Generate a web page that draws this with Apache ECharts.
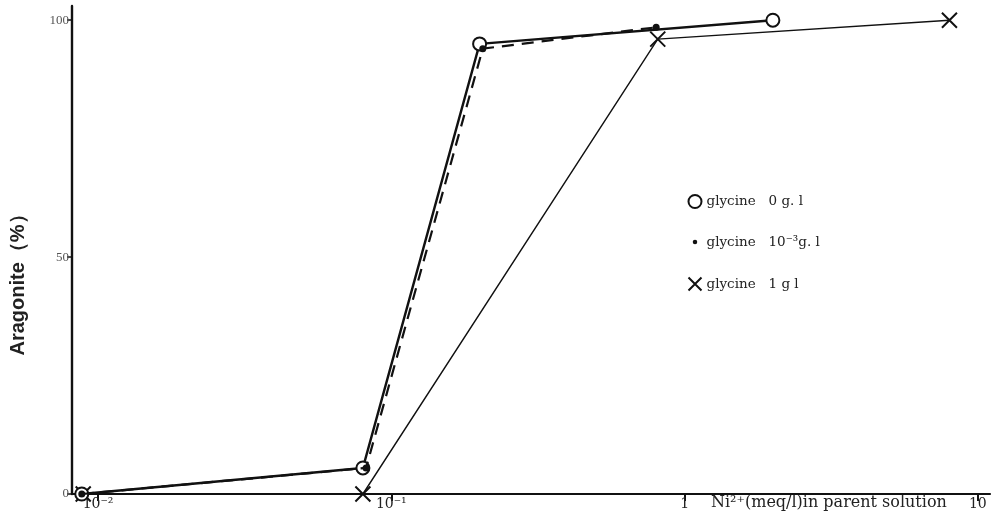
<!DOCTYPE html>
<html>
<head>
<meta charset="utf-8">
<script src="https://cdn.jsdelivr.net/npm/echarts@6/dist/echarts.min.js"></script>
<style>
  html, body { margin: 0; padding: 0; background: #fff; }
  #chart { width: 994px; height: 521px; }
</style>
</head>
<body>
<div id="chart"></div>
<script>
// Ni2+ concentration (meq/l) and aragonite fraction (%) for three glycine levels
const glycine0X = [0.0088, 0.08, 0.2, 2.0];
const glycine0Y = [0, 5.5, 95, 100];

const glycineMilliX = [0.0088, 0.082, 0.205, 0.8];
const glycineMilliY = [0, 5.5, 94, 98.5];

const glycine1X = [0.0089, 0.08, 0.81, 8.0];
const glycine1Y = [0, 0, 96, 100];

const xTickValues = [0.01, 0.1, 1, 10];
const xTickLabels = ['10\u207B\u00B2', '10\u207B\u00B9', '1', '10'];
const yTickValues = [0, 50, 100];

const seriesNames = ['glycine   0 g. l', 'glycine   10\u207B\u00B3g. l', 'glycine   1 g l'];

const pairs = (xs, ys) => xs.map((x, i) => [x, ys[i]]);

const crossPath = 'path://M0,0 L10,10 M10,0 L0,10';
// small dot centred in a larger invisible box, so the legend icon stays small
const smallDotPath = 'path://M0,0 M20,20 M10,6.5 A3.5,3.5 0 1 1 10,13.5 A3.5,3.5 0 1 1 10,6.5 Z';

const chart = echarts.init(document.getElementById('chart'));
chart.setOption({
  backgroundColor: '#ffffff',
  animation: false,
  grid: { left: 72, right: 4, top: 6, bottom: 27, containLabel: false },
  xAxis: {
    type: 'log',
    logBase: 10,
    min: 0.00815,
    max: 11,
    axisLine: { show: true, onZero: false, lineStyle: { color: '#111', width: 2.2 } },
    axisTick: { show: true, inside: false, length: 7, customValues: xTickValues,
      lineStyle: { color: '#111', width: 2 } },
    axisLabel: {
      customValues: xTickValues,
      formatter: v => {
        const i = xTickValues.findIndex(t => Math.abs(Math.log10(t) - Math.log10(v)) < 1e-6);
        return i >= 0 ? xTickLabels[i] : '';
      },
      color: '#222', fontFamily: 'DejaVu Serif', fontSize: 14, margin: 3
    },
    splitLine: { show: false },
    minorTick: { show: false }
  },
  yAxis: {
    type: 'value',
    min: 0,
    max: 103,
    axisLine: { show: true, lineStyle: { color: '#111', width: 2.4 } },
    axisTick: { show: true, length: 5, customValues: yTickValues,
      lineStyle: { color: '#111', width: 1.5 } },
    axisLabel: { customValues: yTickValues, color: '#555', fontFamily: 'Liberation Serif',
      fontSize: 13, margin: 3 },
    splitLine: { show: false }
  },
  legend: {
    orient: 'vertical',
    left: 681,
    top: 189,
    itemGap: 26,
    itemWidth: 13,
    itemHeight: 13,
    textStyle: { color: '#222', fontFamily: 'DejaVu Serif', fontSize: 13.5 },
    data: [
      { name: seriesNames[0], icon: 'circle',
        itemStyle: { color: '#fff', borderColor: '#111', borderWidth: 2 } },
      { name: seriesNames[1], icon: smallDotPath,
        itemStyle: { color: '#111' } },
      { name: seriesNames[2], icon: crossPath,
        itemStyle: { color: 'none', borderColor: '#111', borderWidth: 2 } }
    ]
  },
  graphic: [
    {
      type: 'text',
      x: 18,
      y: 280,
      rotation: Math.PI / 2,
      style: {
        text: 'Aragonite（%）',
        fill: '#222',
        font: 'bold 20px "Liberation Sans"',
        align: 'center',
        verticalAlign: 'middle'
      }
    },
    {
      type: 'text',
      x: 711,
      y: 495,
      style: {
        text: 'Ni\u00B2\u207A(meq/l)in parent solution',
        fill: '#222',
        font: '16px "DejaVu Serif"'
      }
    }
  ],
  series: [
    {
      name: seriesNames[0],
      type: 'line',
      data: pairs(glycine0X, glycine0Y),
      symbol: 'circle',
      symbolSize: 13,
      showAllSymbol: true,
      itemStyle: { color: '#fff', borderColor: '#111', borderWidth: 2 },
      lineStyle: { color: '#111', width: 2.4 },
      z: 3
    },
    {
      name: seriesNames[1],
      type: 'line',
      data: pairs(glycineMilliX, glycineMilliY),
      symbol: 'circle',
      symbolSize: 7,
      itemStyle: { color: '#111' },
      lineStyle: { color: '#111', width: 2.2, type: [12, 8] },
      z: 4
    },
    {
      name: seriesNames[2],
      type: 'line',
      data: pairs(glycine1X, glycine1Y),
      symbol: crossPath,
      symbolSize: 15,
      itemStyle: { color: 'none', borderColor: '#111', borderWidth: 2 },
      lineStyle: { color: '#111', width: 1.4 },
      z: 2
    }
  ]
});
</script>
</body>
</html>
